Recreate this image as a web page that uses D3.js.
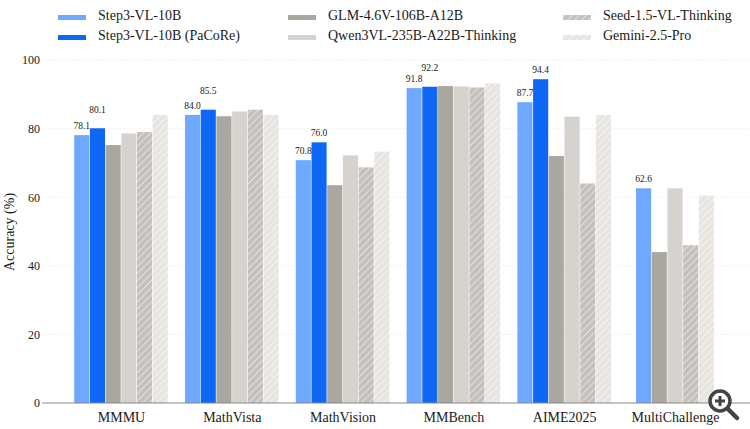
<!DOCTYPE html>
<html>
<head>
<meta charset="utf-8">
<script src="https://cdn.jsdelivr.net/npm/d3@7"></script>
<style>
html, body { margin: 0; padding: 0; background: #fff; overflow: hidden; }
text { font-family: "Liberation Serif", serif; fill: #1a1a1a; }
</style>
</head>
<body>
<div id="chart"></div>
<script>
var categories = ["MMMU", "MathVista", "MathVision", "MMBench", "AIME2025", "MultiChallenge"];
var series_names = ["Step3-VL-10B", "Step3-VL-10B (PaCoRe)", "GLM-4.6V-106B-A12B", "Qwen3VL-235B-A22B-Thinking", "Seed-1.5-VL-Thinking", "Gemini-2.5-Pro"];
var step3 = [78.1, 84.0, 70.8, 91.8, 87.7, 62.6];
var step3_pacore = [80.1, 85.5, 76.0, 92.2, 94.4, null];
var glm = [75.2, 83.6, 63.5, 92.4, 72.0, 44.0];
var qwen = [78.6, 85.0, 72.2, 92.3, 83.5, 62.6];
var seed = [79.0, 85.5, 68.7, 92.0, 64.0, 46.0];
var gemini = [84.0, 84.0, 73.3, 93.2, 84.0, 60.5];
var all_values = [step3, step3_pacore, glm, qwen, seed, gemini];
var y_ticks = [0, 20, 40, 60, 80, 100];

var colors = ["#6fa8ff", "#0f67f6", "#aaa7a1", "#d6d3ce", "#c4c1bc", "#e8e5e0"];
var hatched = [false, false, false, false, true, true];

var svg = d3.select("#chart").append("svg").attr("width", 750).attr("height", 429);

var defs = svg.append("defs");
colors.forEach(function(c, i) {
   if (!hatched[i]) { return; }
   var p = defs.append("pattern").attr("id", "hatch" + i)
      .attr("patternUnits", "userSpaceOnUse").attr("width", 5).attr("height", 5)
      .attr("patternTransform", "rotate(45)");
   p.append("rect").attr("width", 5).attr("height", 5).attr("fill", c);
   p.append("line").attr("x1", 0).attr("x2", 0).attr("y1", 0).attr("y2", 5)
      .attr("stroke", "#fff").attr("stroke-width", 1.4).attr("stroke-opacity", 0.75);
});
function bar_fill(i) { return hatched[i] ? "url(#hatch" + i + ")" : colors[i]; }

var x = d3.scalePoint().domain(categories).range([121, 675]);
var y = d3.scaleLinear().domain([0, 100]).range([403, 60]);

// grid
svg.append("g").selectAll("line").data(y_ticks.filter(function(d) { return d > 0; })).enter().append("line")
   .attr("x1", 42).attr("x2", 750)
   .attr("y1", function(d) { return y(d); }).attr("y2", function(d) { return y(d); })
   .attr("stroke", "#f3f3f3").attr("stroke-width", 1).attr("stroke-dasharray", "2,1");

// the PaCoRe label is lifted clear when it would run into the Step3 label beside it
function label_raise(s, c) {
   if (s == 0 || all_values[1][c] - all_values[0][c] >= 4) { return 6; }
   return 15.5;
}

// bars, a group with a missing value closes up around its centre
var bar_w = 15.7;
categories.forEach(function(cat, c) {
   var present = d3.range(series_names.length).filter(function(s) { return all_values[s][c] !== null; });
   var band = d3.scaleBand().domain(present)
      .range([x(cat) - present.length * bar_w / 2, x(cat) + present.length * bar_w / 2]);
   var g = svg.append("g");
   g.selectAll("rect").data(present).enter().append("rect")
      .attr("x", function(s) { return band(s) + 0.3; })
      .attr("width", band.bandwidth() - 0.6)
      .attr("y", function(s) { return y(all_values[s][c]); })
      .attr("height", function(s) { return y(0) - y(all_values[s][c]); })
      .attr("fill", function(s) { return bar_fill(s); });
   g.selectAll("text").data(present.filter(function(s) { return s < 2; })).enter().append("text")
      .attr("x", function(s) { return band(s) + bar_w / 2; })
      .attr("y", function(s) { return y(all_values[s][c]) - label_raise(s, c); })
      .attr("text-anchor", "middle").attr("font-size", 9.5)
      .text(function(s) { return all_values[s][c].toFixed(1); });
});

// axes
var x_axis = svg.append("g").attr("transform", "translate(0,403)").call(d3.axisBottom(x).tickSize(0).tickPadding(9));
x_axis.select(".domain").remove();
x_axis.selectAll("text").attr("font-size", 14).attr("font-family", "Liberation Serif").attr("fill", "#1a1a1a");
svg.append("line").attr("x1", 42).attr("x2", 750).attr("y1", 403).attr("y2", 403).attr("stroke", "#888").attr("stroke-width", 1);

var y_axis = svg.append("g").attr("transform", "translate(42,0)").call(d3.axisLeft(y).tickValues(y_ticks).tickSize(0).tickPadding(2));
y_axis.select(".domain").remove();
y_axis.selectAll("text").attr("font-size", 12).attr("font-family", "Liberation Serif").attr("fill", "#1a1a1a");

svg.append("text").attr("transform", "translate(14,232) rotate(-90)")
   .attr("text-anchor", "middle").attr("font-size", 14).text("Accuracy (%)");

// legend, filled column by column
var legend_x = [58, 288, 563];
var legend_y = [15, 35];
series_names.forEach(function(name, i) {
   var col = Math.floor(i / 2), row = i % 2;
   svg.append("rect").attr("x", legend_x[col]).attr("y", legend_y[row])
      .attr("width", 28).attr("height", 5).attr("fill", bar_fill(i));
   svg.append("text").attr("x", legend_x[col] + 40).attr("y", legend_y[row] + 4.5)
      .attr("font-size", 14).text(name);
});

// magnifier overlay sitting on the corner of the picture
var zoom_icon = svg.append("g").attr("transform", "translate(720,401)");
zoom_icon.append("line").attr("x1", 7).attr("y1", 7).attr("x2", 17).attr("y2", 17)
   .attr("stroke", "#444").attr("stroke-width", 4.5).attr("stroke-linecap", "round");
zoom_icon.append("circle").attr("r", 10).attr("fill", "#fff").attr("stroke", "#444").attr("stroke-width", 3.5);
zoom_icon.append("path").attr("d", "M-5,0H5M0,-5V5").attr("stroke", "#444").attr("stroke-width", 3);
</script>
</body>
</html>
